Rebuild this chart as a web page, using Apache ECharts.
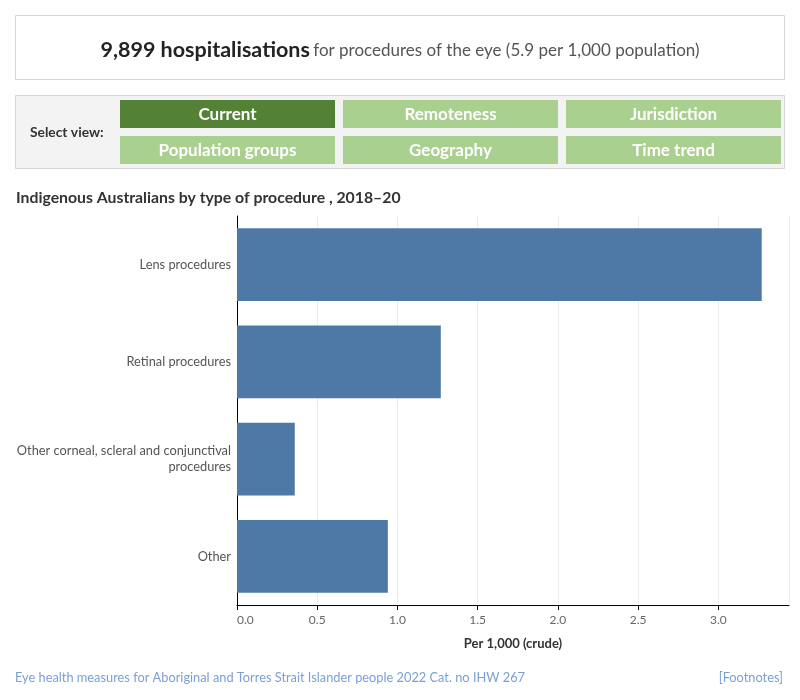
<!DOCTYPE html>
<html>
<head>
<meta charset="utf-8">
<script src="https://cdn.jsdelivr.net/npm/echarts@6/dist/echarts.min.js"></script>
<style>
html,body{margin:0;padding:0;background:#fff;}
#chart{width:800px;height:700px;}
</style>
</head>
<body>
<div id="chart"></div>
<script>
var categories = ['Lens procedures', 'Retinal procedures', 'Other corneal, scleral and conjunctival procedures', 'Other'];
var rates = [3.27, 1.27, 0.36, 0.94];
var xTicks = [0.0, 0.5, 1.0, 1.5, 2.0, 2.5, 3.0];
var buttonLabels = ['Current', 'Remoteness', 'Jurisdiction', 'Population groups', 'Geography', 'Time trend'];

var FONT = 'Lato, "Open Sans", sans-serif';
var chart = echarts.init(document.getElementById('chart'), null, {renderer: 'canvas'});

var graphics = [];
// header box
graphics.push({type: 'rect', shape: {x: 15.5, y: 15.5, width: 769, height: 64}, style: {fill: '#fff', stroke: '#d6d6d6', lineWidth: 1}, silent: true});
graphics.push({type: 'text', x: 400, y: 50.5, style: {
  text: '{b|9,899 hospitalisations} {n|for procedures of the eye (5.9 per 1,000 population)}',
  rich: {b: {fontSize: 21.5, fontWeight: 'bold', fill: '#222', fontFamily: FONT}, n: {fontSize: 17, fill: '#555', fontFamily: FONT}},
  align: 'center', verticalAlign: 'middle'}});
// button panel
graphics.push({type: 'rect', shape: {x: 15.5, y: 95.5, width: 769, height: 73}, style: {fill: '#f3f3f3', stroke: '#d6d6d6', lineWidth: 1}, silent: true});
graphics.push({type: 'text', x: 30, y: 133, style: {text: 'Select view:', fontSize: 13.8, fontWeight: 'bold', fill: '#333', fontFamily: FONT, verticalAlign: 'middle'}});
var colX = [120, 343, 566];
var rowY = [100, 136];
buttonLabels.forEach(function (lab, i) {
  var c = i % 3, r = Math.floor(i / 3);
  graphics.push({type: 'rect', shape: {x: colX[c], y: rowY[r], width: 215, height: 28}, style: {fill: i === 0 ? '#538135' : '#a9d08e'}});
  graphics.push({type: 'text', x: colX[c] + 107.5, y: rowY[r] + 15, style: {text: lab, fontSize: 17, fontWeight: 'bold', fill: '#fff', fontFamily: FONT, align: 'center', verticalAlign: 'middle'}});
});
// chart title
graphics.push({type: 'text', x: 16, y: 198, style: {text: 'Indigenous Australians by type of procedure , 2018\u201320', fontSize: 15.8, fontWeight: 'bold', fill: '#333', fontFamily: FONT, verticalAlign: 'middle'}});
// footer
graphics.push({type: 'text', x: 15, y: 678, style: {text: 'Eye health measures for Aboriginal and Torres Strait Islander people 2022 Cat. no IHW 267', fontSize: 12.8, fill: '#7b9fd4', fontFamily: FONT, verticalAlign: 'middle'}});
graphics.push({type: 'text', x: 783, y: 678, style: {text: '[Footnotes]', fontSize: 12.8, fill: '#7b9fd4', fontFamily: FONT, align: 'right', verticalAlign: 'middle'}});

var option = {
  animation: false,
  textStyle: {fontFamily: FONT},
  grid: {left: 237, top: 216, right: 11, bottom: 95, containLabel: false},
  xAxis: {
    type: 'value', min: 0, max: 3.44, interval: 0.5,
    axisLine: {show: true, lineStyle: {color: '#000', width: 1}},
    axisTick: {show: true, length: 5, lineStyle: {color: '#000'}},
    splitLine: {show: true, lineStyle: {color: '#ececec', width: 1}},
    axisLabel: {
      color: '#666', fontSize: 12, margin: 9, showMaxLabel: false, alignMinLabel: 'left',
      formatter: function (v) {
        for (var i = 0; i < xTicks.length; i++) { if (Math.abs(xTicks[i] - v) < 1e-9) return xTicks[i].toFixed(1); }
        return '';
      }
    },
    name: 'Per 1,000 (crude)', nameLocation: 'middle', nameGap: 32,
    nameTextStyle: {color: '#333', fontSize: 13, fontWeight: 'bold', fontFamily: FONT}
  },
  yAxis: {
    type: 'category', inverse: true, data: categories,
    axisLine: {show: true, lineStyle: {color: '#000', width: 1}},
    axisTick: {show: false},
    axisLabel: {
      color: '#555', fontSize: 12.8, margin: 6, align: 'right',
      formatter: function (v) {
        return v === 'Other corneal, scleral and conjunctival procedures' ? 'Other corneal, scleral and conjunctival\nprocedures' : v;
      },
      lineHeight: 16
    },
    splitLine: {show: false}
  },
  series: [{
    type: 'bar', data: rates, barCategoryGap: '25%',
    itemStyle: {color: '#4e79a7'}
  }],
  graphic: graphics
};
chart.setOption(option);
</script>
</body>
</html>
